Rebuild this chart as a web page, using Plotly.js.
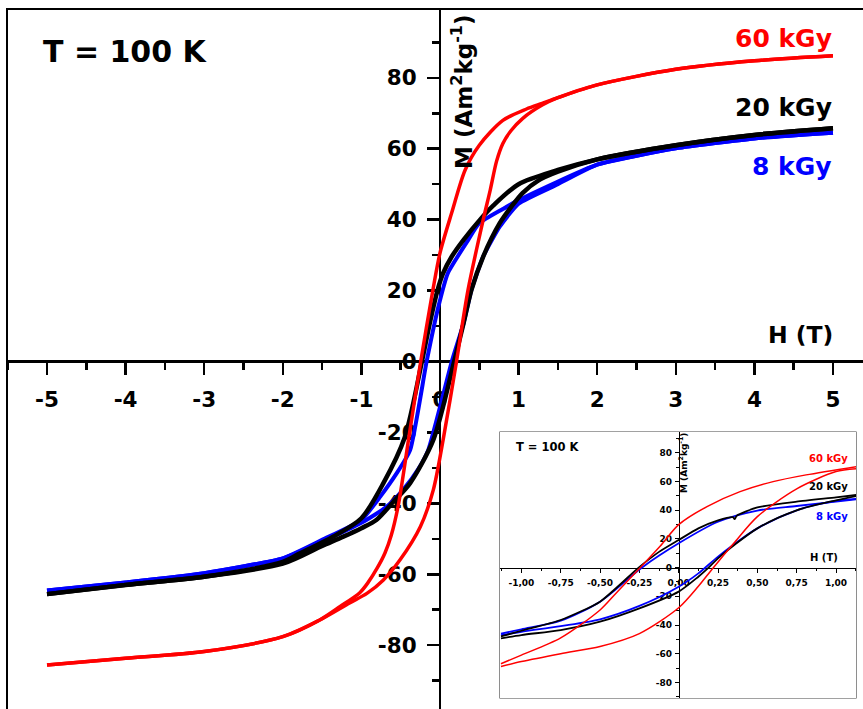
<!DOCTYPE html>
<html><head><meta charset="utf-8">
<script src="https://cdn.plot.ly/plotly-3.0.1.min.js"></script>
<style>html,body{margin:0;padding:0;background:#fff}#chart{width:863px;height:709px}</style>
</head><body><div id="chart"></div>
<script>
// ===== Main plot data (H in T, M in Am2/kg) =====
const red_desc_H = [5, 4, 3, 2, 1.5, 1.3, 1.1, 0.8, 0.5, 0.32, 0.15, 0, -0.09, -0.245, -0.40, -0.53, -0.62, -0.70, -0.80, -0.92, -1.02, -1.27, -1.53, -2, -3, -4, -5];
const red_desc_M = [86.2, 84.8, 82.4, 78, 74.4, 72.8, 71.2, 68, 61, 54, 42, 30.6, 20.2, 0, -22, -40.5, -49, -54, -58.3, -62.5, -65.2, -69.1, -72.9, -77.6, -81.8, -83.7, -85.6];
const red_asc_H = [-5, -4, -3, -2, -1.53, -1.15, -0.93, -0.72, -0.51, -0.25, -0.085, 0.04, 0.21, 0.357, 0.55, 0.64, 0.72, 0.80, 0.9, 1.05, 1.3, 1.5, 2, 3, 4, 5];
const red_asc_M = [-85.6, -83.7, -81.8, -77.6, -72.9, -68.1, -65.4, -61.6, -56, -46.6, -36.2, -22.1, 0, 20.2, 40, 48.4, 56.5, 61.5, 65, 68.5, 72.3, 74.4, 78, 82.4, 84.8, 86.2];

const black_desc_H = [5, 4, 3, 2, 1.5, 1.0, 0.68, 0.51, 0.3, 0.15, 0.04, -0.03, -0.13, -0.23, -0.45, -0.72, -1.0, -1.36, -1.78, -2, -3, -4, -5];
const black_desc_M = [65.8, 63.9, 61.0, 57.0, 54.0, 50.0, 44.0, 40.0, 34.3, 29.6, 24.9, 20.2, 10.8, 0, -21.5, -34.3, -44.2, -49.4, -54.1, -56.5, -60.7, -63.0, -65.6];
const black_asc_H = [-5, -4, -3, -2, -1.5, -1.23, -1.0, -0.81, -0.59, -0.38, -0.085, 0.18, 0.30, 0.40, 0.55, 0.76, 0.91, 1.05, 1.25, 1.5, 2, 3, 4, 5];
const black_asc_M = [-65.6, -63.0, -60.7, -57.0, -52.0, -49.4, -47.0, -44.7, -39.5, -34.3, -22.1, 0, 10.8, 20.2, 29.6, 39.0, 43.7, 47.5, 51.0, 53.5, 57.0, 61.0, 63.9, 65.8];

const blue_desc_H = [5, 4, 3, 2, 1.0, 0.8, 0.5, 0.36, 0.10, -0.02, -0.17, -0.38, -0.55, -0.76, -1.0, -1.5, -2, -3, -4, -5];
const blue_desc_M = [64.5, 62.9, 60.1, 55.5, 45.5, 43.0, 39.0, 34.3, 24.9, 15.5, 0, -25.0, -31.5, -38.1, -44.7, -50.3, -55.5, -59.7, -62.3, -64.6];
const blue_asc_H = [-5, -4, -3, -2, -1.5, -1.0, -0.68, -0.47, -0.28, -0.15, 0.15, 0.30, 0.40, 0.55, 0.76, 1.0, 1.5, 2, 3, 4, 5];
const blue_asc_M = [-64.6, -62.3, -59.7, -55.5, -50.8, -45.5, -41.0, -36.2, -30.5, -25.0, 0, 10.8, 20.2, 29.6, 38.0, 44.5, 50.0, 55.5, 60.1, 62.9, 64.5];

// ===== Inset data =====
const in_red_desc_H = [1.13, 0.81, 0.60, 0.39, 0.18, 0, -0.12, -0.245, -0.4, -0.5, -0.75, -1.0, -1.13];
const in_red_desc_M = [70.5, 64.7, 60, 53, 42.6, 30, 14.7, 0, -18, -29.5, -49, -61, -67];
const in_red_asc_H = [-1.13, -1.0, -0.75, -0.5, -0.25, 0, 0.125, 0.22, 0.35, 0.5, 0.75, 1.0, 1.13];
const in_red_asc_M = [-69, -65.5, -60, -55, -46, -28, -13, 0, 17, 35.6, 55, 67, 69];

const in_black_desc_H = [1.13, 1.0, 0.75, 0.5, 0.37, 0.355, 0.345, 0.25, 0.125, 0, -0.125, -0.255, -0.5, -0.75, -1.0, -1.13];
const in_black_desc_M = [50.7, 49, 46, 42, 36.3, 33.8, 35.2, 33, 27.4, 19.3, 11, 0, -23.7, -36.5, -44, -48];
const in_black_asc_H = [-1.13, -1.0, -0.75, -0.5, -0.25, 0, 0.125, 0.19, 0.25, 0.5, 0.75, 1.0, 1.13];
const in_black_asc_M = [-49.3, -47, -43.5, -37.7, -28.4, -16.7, -6.3, 0, 6.5, 27.4, 40, 47, 50];

const in_blue_desc_H = [1.13, 1.0, 0.75, 0.5, 0.25, 0, -0.235, -0.5, -0.75, -1.0, -1.13];
const in_blue_desc_M = [47.7, 46, 43, 39.8, 32, 17, 0, -23.7, -37, -43, -46];
const in_blue_asc_H = [-1.13, -1.0, -0.75, -0.5, -0.25, 0, 0.125, 0.25, 0.5, 0.75, 1.0, 1.13];
const in_blue_asc_M = [-47, -44.7, -40.7, -36, -26.7, -13.3, -4, 7.7, 27.4, 40, 46.5, 48];

// ===== Ticks =====
const main_x_tickvals = [-5, -4, -3, -2, -1, 0, 1, 2, 3, 4, 5];
const main_x_ticktext = ['-5', '-4', '-3', '-2', '-1', '0', '1', '2', '3', '4', '5'];
const main_y_tickvals = [-80, -60, -40, -20, 0, 20, 40, 60, 80];
const main_y_ticktext = ['-80', '-60', '-40', '-20', '0', '20', '40', '60', '80'];
const in_x_tickvals = [-1, -0.75, -0.5, -0.25, 0, 0.25, 0.5, 0.75, 1];
const in_x_ticktext = ['-1,00', '-0,75', '-0,50', '-0,25', '0,00', '0,25', '0,50', '0,75', '1,00'];
const in_y_tickvals = [-80, -60, -40, -20, 0, 20, 40, 60, 80];
const in_y_ticktext = ['-80', '-60', '-40', '-20', '0', '20', '40', '60', '80'];

// ===== Layout geometry =====
const W = 863, Hh = 709, ML = 7, MT = 9;
const fx = x => (x - ML) / (W - ML);
const fy = y => (Hh - y) / (Hh - MT);
const FONT = 'DejaVu Sans, Verdana, sans-serif';

const mainX = [-5.509, 5.382], mainY = [-98.0, 99.4];
const inX = [-1.136, 1.127], inY = [-90.9, 94.6];
const inDomX = [fx(500), fx(856)], inDomY = [fy(698), fy(432)];

const RED = '#ff0000', BLACK = '#000000', BLUE = '#0000ff';

function tr(x, y, color, width, axes, smooth) {
  return {x: x, y: y, type: 'scatter', mode: 'lines', xaxis: axes[0], yaxis: axes[1],
    line: {color: color, width: width, shape: 'spline', smoothing: smooth},
    hoverinfo: 'skip', showlegend: false};
}
const A1 = ['x', 'y'], A2 = ['x2', 'y2'];
const data = [
  tr(blue_desc_H, blue_desc_M, BLUE, 4, A1, 0.5),
  tr(blue_asc_H, blue_asc_M, BLUE, 4, A1, 0.5),
  tr(black_desc_H, black_desc_M, BLACK, 4.5, A1, 0.8),
  tr(black_asc_H, black_asc_M, BLACK, 4.5, A1, 0.8),
  tr(red_desc_H, red_desc_M, RED, 3.5, A1, 0.8),
  tr(red_asc_H, red_asc_M, RED, 3.5, A1, 0.8),
  tr(in_blue_desc_H, in_blue_desc_M, BLUE, 1.8, A2, 0.8),
  tr(in_blue_asc_H, in_blue_asc_M, BLUE, 1.8, A2, 0.8),
  tr(in_black_desc_H, in_black_desc_M, BLACK, 1.8, A2, 0.6),
  tr(in_black_asc_H, in_black_asc_M, BLACK, 1.8, A2, 0.8),
  tr(in_red_desc_H, in_red_desc_M, RED, 1.5, A2, 0.8),
  tr(in_red_asc_H, in_red_asc_M, RED, 1.5, A2, 0.8)
];

const mainXpos = (0 - mainY[0]) / (mainY[1] - mainY[0]);
const mainYpos = (0 - mainX[0]) / (mainX[1] - mainX[0]);
const inXpos = inDomY[0] + (0 - inY[0]) / (inY[1] - inY[0]) * (inDomY[1] - inDomY[0]);
const inYpos = inDomX[0] + (0 - inX[0]) / (inX[1] - inX[0]) * (inDomX[1] - inDomX[0]);

function ax(range, dom, pos, tv, tt, tf, tl, tw, lw, minDt, minLen, standoff) {
  return {range: range, domain: dom, anchor: 'free', position: pos, showgrid: false, zeroline: false,
    showline: true, linecolor: 'black', linewidth: lw, ticks: 'outside', ticklen: tl, tickwidth: tw,
    tickcolor: 'black', tickmode: 'array', tickvals: tv, ticktext: tt,
    tickfont: {family: FONT, size: tf, color: 'black', weight: 'bold'},
    minor: {tickmode: 'linear', tick0: 0, dtick: minDt, ticks: 'outside', ticklen: minLen, tickwidth: tw, tickcolor: 'black', showgrid: false},
    ticklabelstandoff: standoff, layer: 'below traces', automargin: false, fixedrange: true};
}

function ann(text, x, y, size, color, xanchor, extra) {
  return Object.assign({text: text, x: fx(x), y: fy(y), xref: 'paper', yref: 'paper', showarrow: false,
    xanchor: xanchor, yanchor: 'middle', font: {family: FONT, size: size, color: color, weight: 'bold'}}, extra || {});
}

const layout = {
  width: W, height: Hh, margin: {l: ML, r: 0, t: MT, b: 0},
  paper_bgcolor: '#ffffff', plot_bgcolor: '#ffffff', showlegend: false,
  xaxis: ax(mainX, [0, 1], mainXpos, main_x_tickvals, main_x_ticktext, 21.5, 12, 2.5, 2.5, 0.5, 7, 6),
  yaxis: ax(mainY, [0, 1], mainYpos, main_y_tickvals, main_y_ticktext, 21.5, 12, 2.5, 2.5, 10, 7, 6),
  xaxis2: ax(inX, inDomX, inXpos, in_x_tickvals, in_x_ticktext, 9, 4, 1, 1, 0.125, 2.5, 3),
  yaxis2: ax(inY, inDomY, inYpos, in_y_tickvals, in_y_ticktext, 9, 4, 1, 1, 10, 2.5, 1),
  shapes: [
    {type: 'rect', xref: 'paper', yref: 'paper', x0: 0, x1: 1.05, y0: -0.05, y1: 1, line: {color: 'black', width: 2}, layer: 'above'},
    {type: 'rect', xref: 'paper', yref: 'paper', x0: inDomX[0], x1: inDomX[1], y0: inDomY[0], y1: inDomY[1],
      fillcolor: '#ffffff', line: {color: '#444444', width: 1.2}, layer: 'below'}
  ],
  annotations: [
    ann('T = 100 K', 41, 51, 30, BLACK, 'left'),
    ann('60 kGy', 834, 39, 25, RED, 'right'),
    ann('20 kGy', 834, 107, 25, BLACK, 'right'),
    ann('8 kGy', 834, 166, 25, BLUE, 'right'),
    ann('H (T)', 835, 335, 23.5, BLACK, 'right'),
    ann('M (Am<sup>2</sup>kg<sup>-1</sup>)', 462, 92, 23, BLACK, 'center', {textangle: -90}),
    ann('T = 100 K', 514, 447, 11.5, BLACK, 'left'),
    ann('60 kGy', 850, 459, 10, RED, 'right'),
    ann('20 kGy', 850, 486, 10, BLACK, 'right'),
    ann('8 kGy', 850, 516, 10, BLUE, 'right'),
    ann('H (T)', 840, 557, 10, BLACK, 'right'),
    ann('M (Am<sup>2</sup>kg<sup>-1</sup>)', 683, 463, 9, BLACK, 'center', {textangle: -90})
  ]
};

Plotly.newPlot('chart', data, layout, {displayModeBar: false, staticPlot: true});
</script></body></html>
